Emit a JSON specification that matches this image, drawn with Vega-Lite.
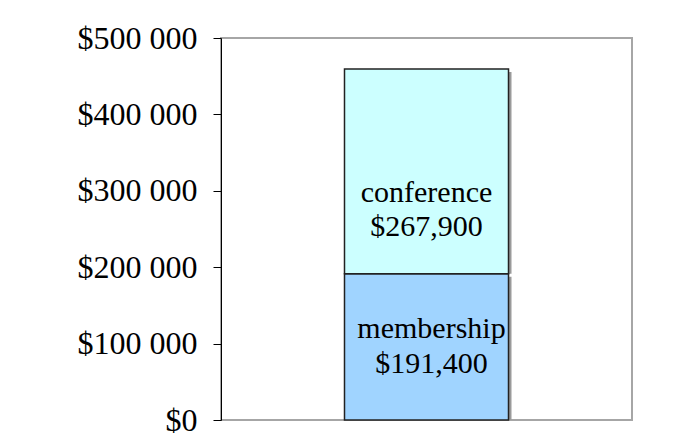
{
  "$schema": "https://vega.github.io/schema/vega-lite/v6.json",
  "width": 411,
  "height": 382,
  "autosize": {"type": "none"},
  "padding": {"left": 221, "top": 38, "right": 67, "bottom": 17},
  "background": "white",
  "config": {
    "view": {"stroke": "#a6a6a6", "strokeWidth": 2},
    "font": "Liberation Serif"
  },
  "data": {
    "values": [
      {"source": "revenue", "part": "membership", "amount": 191400},
      {"source": "revenue", "part": "conference", "amount": 267900}
    ]
  },
  "transform": [
    {"stack": "amount", "groupby": ["source"], "sort": [{"field": "part", "order": "descending"}], "as": ["y0", "y1"]},
    {"calculate": "[datum.part, '$' + format(datum.amount, ',')]", "as": "label"}
  ],
  "encoding": {
    "x": {"field": "source", "type": "nominal", "axis": null, "scale": {"paddingInner": 0, "paddingOuter": 0.753}}
  },
  "layer": [
    {
      "mark": {"type": "bar", "fill": "#9a9a9a", "xOffset": 3, "yOffset": 3, "clip": true},
      "encoding": {
        "y": {
          "field": "y1", "type": "quantitative",
          "scale": {"domain": [0, 500000]},
          "axis": {
            "values": [0, 100000, 200000, 300000, 400000, 500000],
            "labelExpr": "datum.value == 0 ? '$0' : '$' + format(datum.value / 1000, 'd') + ' 000'",
            "title": null, "grid": false,
            "domainColor": "#000", "domainWidth": 1,
            "tickColor": "#000", "tickSize": 8,
            "labelFont": "Liberation Serif", "labelFontSize": 32, "labelColor": "#000",
            "labelPadding": 16
          }
        },
        "y2": {"field": "y0"}
      }
    },
    {
      "mark": {"type": "bar", "stroke": "#222", "strokeWidth": 1.5},
      "encoding": {
        "y": {"field": "y1", "type": "quantitative"},
        "y2": {"field": "y0"},
        "color": {
          "field": "part", "type": "nominal",
          "scale": {"domain": ["conference", "membership"], "range": ["#CCFFFF", "#A0D4FF"]},
          "legend": null
        }
      }
    },
    {
      "transform": [{"filter": "datum.part == 'conference'"}],
      "mark": {"type": "text", "baseline": "alphabetic", "dy": -72, "fontSize": 30, "lineHeight": 34, "font": "Liberation Serif", "color": "#000"},
      "encoding": {
        "y": {"field": "y0", "type": "quantitative"},
        "text": {"field": "label"}
      }
    },
    {
      "transform": [{"filter": "datum.part == 'membership'"}],
      "mark": {"type": "text", "baseline": "alphabetic", "dy": -82, "dx": 5, "fontSize": 30, "lineHeight": 35, "font": "Liberation Serif", "color": "#000"},
      "encoding": {
        "y": {"field": "y0", "type": "quantitative"},
        "text": {"field": "label"}
      }
    }
  ]
}
